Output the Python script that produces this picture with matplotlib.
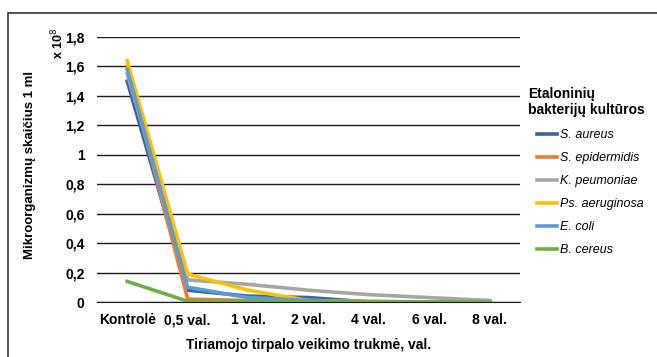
import matplotlib.pyplot as plt
from matplotlib.patches import Rectangle

plt.rcParams['font.family'] = ['Liberation Sans', 'DejaVu Sans']

categories = ["Kontrolė", "0,5 val.", "1 val.", "2 val.", "4 val.", "6 val.", "8 val."]
s_aureus = [1.50, 0.08, 0.04, 0.03, 0.00, 0.00, 0.00]
s_epidermidis = [1.60, 0.02, 0.01, 0.01, 0.005, 0.00, 0.00]
k_peumoniae = [1.55, 0.15, 0.12, 0.08, 0.05, 0.03, 0.01]
ps_aeruginosa = [1.64, 0.19, 0.08, 0.01, 0.00, 0.00, 0.00]
e_coli = [1.58, 0.10, 0.03, 0.01, 0.00, 0.00, 0.00]
b_cereus = [0.14, 0.005, 0.005, 0.00, 0.00, 0.00, 0.00]
y_ticks = [0, 0.2, 0.4, 0.6, 0.8, 1, 1.2, 1.4, 1.6, 1.8]
y_labels = ["0", "0,2", "0,4", "0,6", "0,8", "1", "1,2", "1,4", "1,6", "1,8"]

series = [
    ("S. aureus", s_aureus, "#3A62A8"),
    ("S. epidermidis", s_epidermidis, "#ED7D31"),
    ("K. peumoniae", k_peumoniae, "#A5A5A5"),
    ("Ps. aeruginosa", ps_aeruginosa, "#FFC000"),
    ("E. coli", e_coli, "#5B9BD5"),
    ("B. cereus", b_cereus, "#70AD47"),
]

fig = plt.figure(figsize=(6.57, 3.57), dpi=100)
ax = fig.add_axes([97/657, 1 - 302/357, (520-97)/657, (302-37)/357])

x = list(range(len(categories)))
for name, vals, col in series:
    ax.plot(x, vals, color=col, linewidth=2.6, label=name)

ax.set_xlim(-0.5, 6.5)
ax.set_ylim(0, 1.8)
ax.set_yticks(y_ticks)
ax.set_yticklabels(y_labels, fontsize=10, fontweight='bold')
ax.set_xticks(x)
ax.set_xticklabels(categories, fontsize=10, fontweight='bold')
ax.grid(axis='y', color='#1a1a1a', linewidth=1.0)
ax.set_axisbelow(True)
for s in ['top', 'right', 'left']:
    ax.spines[s].set_visible(False)
ax.spines['bottom'].set_color('#1a1a1a')
ax.tick_params(axis='x', length=0, pad=8)
ax.tick_params(axis='y', length=0, pad=9)
ax.set_xlabel("Tiriamojo tirpalo veikimo trukmė, val.", fontsize=10, fontweight='bold', labelpad=8)

fig.text(30/657, 1 - 165/357, "Mikroorganizmų skaičius 1 ml", rotation=90, fontsize=9.5,
         fontweight='bold', ha='center', va='center')
fig.text(58/657, 1 - 43/357, "x 10$^{8}$", rotation=90, fontsize=9,
         fontweight='bold', ha='center', va='center')

fig.text(528/657, 1 - 87/357, "Etaloninių\nbakterijų kultūros", fontsize=10,
         fontweight='bold', ha='left', va='top', linespacing=1.15)

leg = ax.legend(loc='upper left', bbox_to_anchor=((537-97)/423, (302-129)/265), frameon=False,
                handlelength=1.6, handletextpad=0.25, labelspacing=0.88, fontsize=9,
                borderaxespad=0, borderpad=0)
for t in leg.get_texts():
    t.set_fontstyle('italic')

fig.patches.append(Rectangle((8/657, -0.1), 1.2, 1 - 13/357 + 0.1, transform=fig.transFigure,
                             fill=False, edgecolor='#333333', linewidth=1.2))

fig.savefig("out.png", dpi=100)
